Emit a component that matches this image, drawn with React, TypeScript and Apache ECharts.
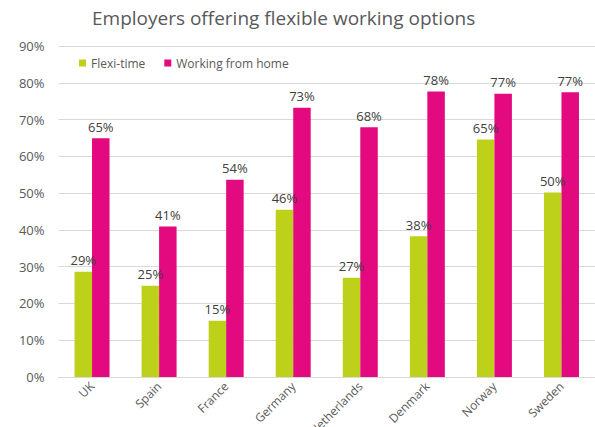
import React, { useEffect, useRef } from "react";
import * as echarts from "echarts";

const categories = ["UK", "Spain", "France", "Germany", "Netherlands", "Denmark", "Norway", "Sweden"];
const flexiTime = [28.6, 24.8, 15.3, 45.5, 27.0, 38.3, 64.6, 50.2];
const workingFromHome = [64.9, 40.9, 53.6, 73.2, 67.9, 77.6, 77.0, 77.4];
const yTicks = { min: 0, max: 90, interval: 10 };

const FONT = "'Open Sans', sans-serif";

export default function App() {
  const ref = useRef<HTMLDivElement>(null);
  useEffect(() => {
    if (!ref.current) return;
    const chart = echarts.init(ref.current, null, { renderer: "svg" });
    const labelCfg = {
      show: true,
      position: "top" as const,
      distance: 5,
      color: "#404040",
      fontSize: 13,
      fontFamily: FONT,
      formatter: (p: any) => Math.round(p.value) + "%",
    };
    chart.setOption({
      animation: false,
      backgroundColor: "#ffffff",
      title: {
        text: "Employers offering flexible working options",
        left: 87,
        top: 3,
        textStyle: { color: "#595959", fontSize: 19, fontWeight: "normal", fontFamily: FONT },
      },
      legend: {
        left: 74,
        top: 52,
        itemWidth: 7,
        itemHeight: 7,
        itemGap: 19,
        icon: "rect",
        textStyle: { color: "#595959", fontSize: 12, fontFamily: FONT },
        data: ["Flexi-time", "Working from home"],
      },
      grid: { left: 58.5, right: 0, top: 46, bottom: 50, containLabel: false, outerBoundsMode: "none" },
      xAxis: {
        type: "category",
        data: categories,
        axisTick: { show: false },
        axisLine: { lineStyle: { color: "#d9d9d9", width: 1 } },
        axisLabel: { rotate: 45, color: "#595959", fontSize: 12, fontFamily: FONT, margin: 7 },
      },
      yAxis: {
        type: "value",
        min: yTicks.min,
        max: yTicks.max,
        interval: yTicks.interval,
        axisLine: { show: false },
        axisTick: { show: false },
        splitLine: { lineStyle: { color: "#d9d9d9", width: 1 } },
        axisLabel: {
          color: "#595959",
          fontSize: 13,
          fontFamily: FONT,
          margin: 14,
          formatter: (v: number) => v + "%",
        },
      },
      series: [
        {
          name: "Flexi-time",
          type: "bar",
          data: flexiTime,
          barWidth: 17.5,
          barGap: "0%",
          itemStyle: { color: "#bdd01a" },
          label: labelCfg,
        },
        {
          name: "Working from home",
          type: "bar",
          data: workingFromHome,
          barWidth: 17.5,
          barGap: "0%",
          itemStyle: { color: "#e3097f" },
          label: labelCfg,
        },
      ],
    });
    return () => chart.dispose();
  }, []);
  return <div ref={ref} style={{ width: 595, height: 427, position: "absolute", left: 0, top: 0 }} />;
}
